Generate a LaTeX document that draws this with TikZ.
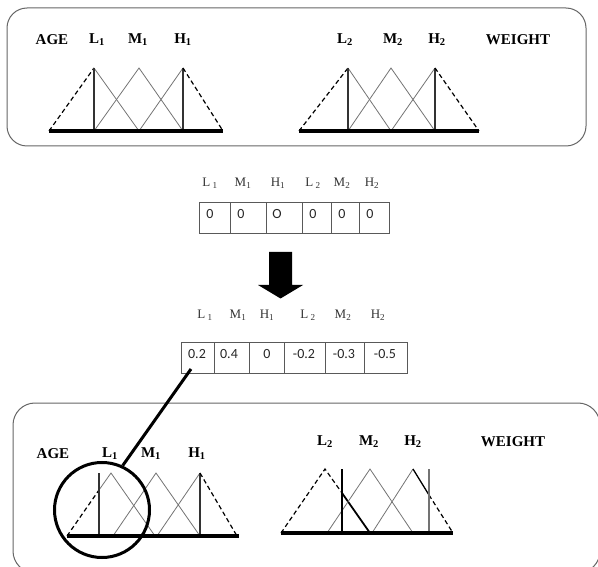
\documentclass[tikz,border=0pt]{standalone}
\usepackage{fontspec}
\setmainfont{Liberation Serif}
\newfontfamily\cellfont{Carlito}
\begin{document}
\begin{tikzpicture}[x=1pt,y=-1pt,
  frame/.style={draw=black!60,line width=1pt,rounded corners=20pt},
  axis/.style={line width=4pt},
  tri/.style={draw=black!55,line width=0.8pt},
  vert/.style={draw=black!80,line width=1.1pt},
  dsh/.style={draw=black,line width=1.2pt,dash pattern=on 4.5pt off 3pt},
  hot/.style={draw=black,line width=1.8pt},
  blbl/.style={font=\fontsize{15}{15}\selectfont\bfseries,inner sep=0pt},
  tlbl/.style={font=\fontsize{13}{13}\selectfont,inner sep=0pt,text=black!80},
  cellbox/.style={draw=black!65,line width=0.8pt,inner sep=0pt},
  celltxt/.style={font=\cellfont\fontsize{14}{14}\selectfont,inner sep=0pt,text=black!85}]
\useasboundingbox (0,0) rectangle (598,567);
\begin{scope}
\clip (0,0) rectangle (598,567);
% frames
\draw[frame] (7,8) rectangle (586,146);
\draw[frame,rounded corners=22pt] (13,403) rectangle (600,573);

% ---- top left (AGE)
\node[blbl] (ageT) at (52,40) {AGE};
\node[blbl] (l1T) at (97,40) {L\textsubscript{1}};
\node[blbl] (m1T) at (138,40) {M\textsubscript{1}};
\node[blbl] (h1T) at (183,40) {H\textsubscript{1}};
\draw[dsh] (49,131) -- (94,68);
\draw[tri] (94,68) -- (139,131);
\draw[tri] (94,131) -- (139,68) -- (183,131);
\draw[tri] (139,131) -- (183,68);
\draw[vert] (94,68) -- (94,131);
\draw[vert] (183,68) -- (183,131);
\draw[dsh] (183,68) -- (223,131);
\draw[axis] (49,131.5) -- (223,131.5);

% ---- top right (WEIGHT)
\node[blbl] (l2T) at (345,40) {L\textsubscript{2}};
\node[blbl] (m2T) at (393,40) {M\textsubscript{2}};
\node[blbl] (h2T) at (437,40) {H\textsubscript{2}};
\node[blbl] (wT) at (518,40) {WEIGHT};
\draw[dsh] (299,131) -- (348,68);
\draw[tri] (348,68) -- (391,131);
\draw[tri] (348,131) -- (391,68) -- (435,131);
\draw[tri] (391,131) -- (435,68);
\draw[vert] (348,68) -- (348,131);
\draw[vert] (435,68) -- (435,131);
\draw[dsh] (435,68) -- (479,131);
\draw[axis] (299,131.5) -- (479,131.5);

% ---- table 1
\node[tlbl] at (210,183) {L\,\textsubscript{1}};
\node[tlbl] at (243,183) {M\textsubscript{1}};
\node[tlbl] at (278,183) {H\textsubscript{1}};
\node[tlbl] at (313,183) {L\,\textsubscript{2}};
\node[tlbl] at (342,183) {M\textsubscript{2}};
\node[tlbl] at (372,183) {H\textsubscript{2}};
\foreach \a/\b/\t/\n in {199/230/0/1,230/266/0/2,266/302/O/3,302/331/0/4,331/359/0/5,359/389/0/6}{
  \node[cellbox,minimum width=\b-\a,minimum height=31] (ca\n) at ({(\a+\b)/2},217.5) {};
  \node[celltxt] at (\a+11,214) {\t};
}

% ---- arrow
\fill (269,252) -- (292,252) -- (292,285) -- (303,285) -- (280.5,298.5) -- (258,285) -- (269,285) -- cycle;

% ---- table 2
\node[tlbl] at (205,315) {L\,\textsubscript{1}};
\node[tlbl] at (238,315) {M\textsubscript{1}};
\node[tlbl] at (267,315) {H\textsubscript{1}};
\node[tlbl] at (308,315) {L\,\textsubscript{2}};
\node[tlbl] at (343,315) {M\textsubscript{2}};
\node[tlbl] at (378,315) {H\textsubscript{2}};
\foreach \a/\b/\t/\n/\x in {181/214/0.2/1/197,214/249/0.4/2/229,249/284/0/3/267,284/325/-0.2/4/304,325/364/-0.3/5/344,364/407/-0.5/6/385}{
  \node[cellbox,minimum width=\b-\a,minimum height=31] (cb\n) at ({(\a+\b)/2},357.5) {};
  \node[celltxt] at (\x,354) {\t};
}

% ---- bottom left (AGE)
\node[blbl] (ageB) at (53,454) {AGE};
\node[blbl] (l1B) at (110,454) {L\textsubscript{1}};
\node[blbl] (m1B) at (151,454) {M\textsubscript{1}};
\node[blbl] (h1B) at (197,454) {H\textsubscript{1}};
\draw[dsh] (67,536) -- (99,490);
\draw[tri] (99,490) -- (111,473) -- (155,536);
\draw[tri] (113,536) -- (156,473) -- (200,536);
\draw[tri] (157,536) -- (200,473);
\draw[vert] (99,473) -- (99,536);
\draw[vert] (200,473) -- (200,536);
\draw[dsh] (200,473) -- (237,536);
\draw[axis] (67,536) -- (239,536);

% ---- bottom right (WEIGHT)
\node[blbl] (l2B) at (325,442) {L\textsubscript{2}};
\node[blbl] (m2B) at (369,442) {M\textsubscript{2}};
\node[blbl] (h2B) at (413,442) {H\textsubscript{2}};
\node[blbl] (wB) at (513,442) {WEIGHT};
\draw[dsh] (281,533) -- (325,469) -- (342,493);
\draw[hot] (342,493) -- (370,533);
\draw[tri] (327,533) -- (370,469) -- (413,533);
\draw[tri] (372,533) -- (413,469);
\draw[hot,line width=1.3pt] (413,469) -- (429,495);
\draw[dsh] (429,495) -- (453,533);
\draw[vert,draw=black] (342,469) -- (342,533);
\draw[tri,line width=1.1pt] (429,469) -- (429,533);
\draw[axis] (281,533) -- (453,533);

% ---- zoom circle and connector
\node[circle,draw,line width=3pt,minimum size=95pt,inner sep=0pt] (zc) at (102,510) {};
\coordinate (lnA) at (191,369);
\draw[line width=3pt] (lnA) -- (zc.65);
\end{scope}
\end{tikzpicture}
\end{document}
